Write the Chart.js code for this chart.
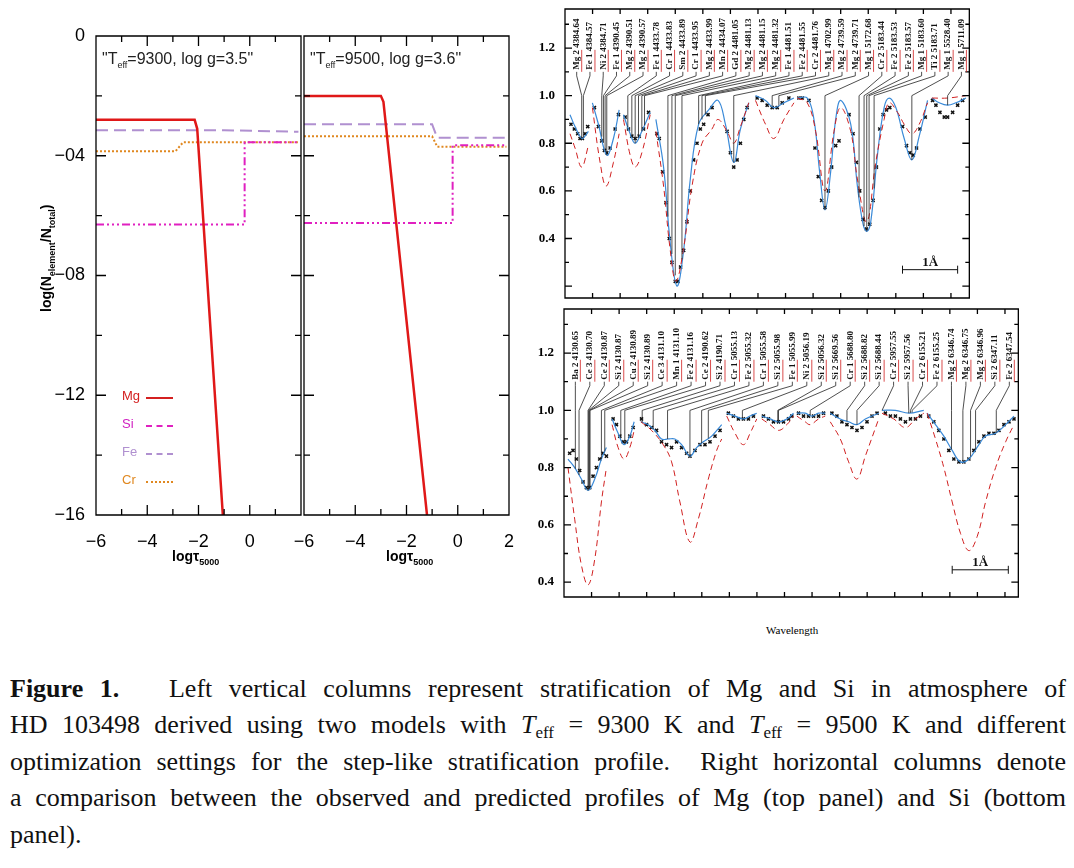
<!DOCTYPE html>
<html><head><meta charset="utf-8">
<script src="https://cdn.jsdelivr.net/npm/chart.js@4"></script>
<style>
body{margin:0;background:#fff;width:1074px;height:868px;position:relative;overflow:hidden;font-family:"Liberation Sans",sans-serif}
canvas{position:absolute}
.abs{position:absolute;white-space:nowrap}
.cap{position:absolute;left:10px;top:671px;width:1056px;font-family:"Liberation Serif",serif;font-size:26px;line-height:36.4px;color:#111}
.cap div{text-align:justify;text-align-last:justify;white-space:nowrap}
.cap div.last{text-align-last:left}
.cap sub{font-size:17px;line-height:0;vertical-align:-5px}
.lg{position:absolute;font-size:13px}
.ln{position:absolute;width:27px;height:0}
</style></head><body>
<canvas id="c1" style="left:0;top:26px"></canvas>
<canvas id="c2" style="left:284px;top:26px"></canvas>
<canvas id="c3" style="left:535px;top:0"></canvas>
<canvas id="c4" style="left:535px;top:305px"></canvas>
<div class="abs" style="left:102px;top:50px;font-size:16px;color:#222">"T<sub style="font-size:9px">eff</sub>=9300, log g=3.5"</div>
<div class="abs" style="left:310px;top:50px;font-size:16px;color:#222">"T<sub style="font-size:9px">eff</sub>=9500, log g=3.6"</div>
<div class="abs" style="transform:rotate(-90deg);transform-origin:0 0;font-weight:bold;font-size:14px;left:38px;top:312px">log(N<sub style="font-size:9px">element</sub>/N<sub style="font-size:9px">total</sub>)</div>
<div class="abs" style="left:172px;top:548px;font-weight:bold;font-size:14px">log&#964;<sub style="font-size:9px">5000</sub></div>
<div class="abs" style="left:386px;top:548px;font-weight:bold;font-size:14px">log&#964;<sub style="font-size:9px">5000</sub></div>
<div class="lg" style="left:122px;top:388px;color:#d42020">Mg</div><div class="ln" style="left:146px;top:397px;border-top:2px solid #d42020"></div>
<div class="lg" style="left:122px;top:416px;color:#d020c0">Si</div><div class="ln" style="left:146px;top:425px;border-top:2px dashed #e020c0"></div>
<div class="lg" style="left:122px;top:444px;color:#b090d0">Fe</div><div class="ln" style="left:146px;top:453px;border-top:2px dashed #b090d0"></div>
<div class="lg" style="left:122px;top:472px;color:#e08820">Cr</div><div class="ln" style="left:146px;top:481px;border-top:2px dotted #e08820"></div>
<div class="abs" style="left:766px;top:624px;font-family:'Liberation Serif',serif;font-size:11px">Wavelength</div>
<div class="cap">
<div><b>Figure 1.</b>&nbsp;&nbsp; Left vertical columns represent stratification of Mg and Si in atmosphere of</div>
<div>HD 103498 derived using two models with <i>T</i><sub>eff</sub> = 9300 K and <i>T</i><sub>eff</sub> = 9500 K and different</div>
<div>optimization settings for the step-like stratification profile.&nbsp; Right horizontal columns denote</div>
<div>a comparison between the observed and predicted profiles of Mg (top panel) and Si (bottom</div>
<div class="last">panel).</div>
</div>
<script>
// ---- left panels data (log tau, log N) ----
const mg1=[[-6,-2.8],[-2.15,-2.8],[-2.05,-3.1],[-1.05,-16]];
const si1=[[-6,-6.3],[-0.2,-6.3],[-0.2,-3.55],[1.9,-3.55]];
const fe1=[[-6,-3.15],[-1.0,-3.15],[1.9,-3.2]];
const cr1=[[-6,-3.85],[-2.9,-3.85],[-2.6,-3.55],[1.9,-3.55]];
const mg2=[[-6,-2.0],[-3.0,-2.0],[-2.9,-2.2],[-1.2,-16]];
const si2=[[-6,-6.25],[-0.2,-6.25],[-0.2,-3.65],[1.9,-3.65]];
const fe2=[[-6,-2.95],[-1.0,-2.95],[-0.8,-3.4],[1.9,-3.4]];
const cr2=[[-6,-3.35],[-1.0,-3.35],[-0.8,-3.7],[1.9,-3.7]];
// ---- top spectrum (Mg) ----
const topBlue=[[105,.92],[120,.87],[140,.82],[150,.83],[160,.85],null,[172,.97],[190,.88],[215,.75],[235,.82],[252,.94],null,[265,.92],[285,.84],[300,.80],[320,.85],[345,.93],null,[362,.90],[385,.70],[405,.38],[425,.20],[445,.35],[465,.65],[490,.88],[520,.94],[548,.98],[570,.88],[595,.72],[615,.86],[640,.97],null,[660,1.0],[690,.98],[715,.95],[745,.97],[775,.99],null,[785,.99],[815,.99],[835,.9],[852,.68],[868,.52],[885,.68],[900,.9],[915,.98],[945,.88],[965,.62],[982,.46],[993,.43],[1005,.47],[1025,.75],[1045,.95],[1060,.99],[1080,.95],[1105,.82],[1128,.73],[1150,.83],[1175,.98],null,[1188,.99],[1210,.97],[1235,.96],[1260,.97],[1290,.99]];
const topRed=[[105,.84],[120,.78],[140,.70],[160,.79],null,[172,.95],[195,.72],[213,.62],[235,.72],[252,.84],null,[265,.90],[285,.75],[300,.70],[320,.76],[345,.92],null,[362,.85],[385,.62],[405,.35],[422,.22],[445,.36],[470,.62],[500,.80],[530,.86],[548,.90],[575,.85],[595,.80],[615,.87],[640,.97],null,[660,.98],[690,.88],[715,.82],[745,.90],[775,.97],null,[785,.99],[815,.97],[840,.85],[868,.60],[895,.85],[915,.95],[945,.85],[965,.65],[993,.47],[1020,.72],[1045,.90],[1060,.97],[1085,.93],[1105,.88],[1128,.84],[1150,.88],[1175,.97],null,[1188,.99],[1235,.99],[1290,1.0]];
const topObs=[[108,.88],[118,.86],[128,.84],[135,.82],[142,.82],[150,.84],[158,.87],[178,.95],[190,.87],[200,.81],[208,.77],[215,.76],[225,.78],[240,.86],[250,.92],[270,.91],[280,.86],[290,.83],[300,.82],[312,.83],[325,.86],[340,.93],[365,.84],[372,.82],[382,.68],[392,.55],[402,.40],[410,.30],[420,.22],[428,.22],[436,.28],[445,.35],[455,.47],[465,.60],[475,.73],[485,.80],[495,.86],[505,.88],[518,.92],[530,.95],[575,.85],[585,.76],[595,.70],[605,.73],[615,.80],[625,.90],[635,.95],[665,.99],[680,.98],[695,.96],[710,.95],[725,.95],[740,.97],[760,.99],[790,.99],[800,.99],[820,.98],[838,.78],[848,.66],[858,.56],[868,.53],[878,.60],[888,.70],[900,.79],[910,.81],[940,.92],[952,.84],[962,.72],[972,.60],[982,.48],[992,.44],[1002,.46],[1012,.56],[1022,.70],[1032,.86],[1042,.92],[1052,.94],[1062,.95],[1100,.87],[1112,.79],[1122,.76],[1132,.75],[1142,.78],[1152,.86],[1168,.91],[1190,.98],[1200,.96],[1212,.93],[1225,.91],[1235,.91],[1250,.93],[1265,.96],[1280,.98]];
const topLabels=["Mg 2 4384.64","Fe 1 4384.57","Ni 2 4384.71","Fe 1 4390.45","Mg 2 4390.51","Mg 2 4390.57","Fe 1 4433.78","Cr 1 4433.83","Sm 2 4433.89","Cr 1 4433.95","Mg 2 4433.99","Mn 2 4434.07","Gd 2 4481.05","Mg 2 4481.13","Mg 2 4481.15","Mg 2 4481.32","Fe 1 4481.51","Fe 2 4481.55","Cr 2 4481.76","Mg 1 4702.99","Mg 2 4739.59","Mg 2 4739.71","Mg 1 5172.68","Cr 2 5183.44","Fe 2 5183.53","Fe 2 5183.57","Mg 1 5183.60","Ti 2 5183.71","Mg 1 5528.40","Mg 1 5711.09"];
const topTargets=[140,145,200,205,210,215,278,290,300,310,320,328,398,410,420,440,490,500,510,595,710,730,868,970,985,993,1000,1015,1128,1235];
// ---- bottom spectrum (Si) ----
const botBlue=[[100,.83],[120,.80],[140,.76],[160,.72],[180,.76],[200,.83],[215,.87],null,[232,.97],[250,.92],[268,.88],[285,.91],[298,.96],null,[318,.96],[340,.95],[360,.93],[380,.90],[400,.90],[420,.90],[440,.88],[465,.84],[485,.87],[505,.89],[530,.91],[560,.95],null,[575,.99],[600,.98],[625,.97],[645,.98],[665,.99],null,[680,.98],[705,.97],[730,.96],[755,.97],[775,.99],null,[785,.99],[810,.99],[830,.98],[850,.99],[870,.99],null,[885,.99],[915,.97],[940,.96],[965,.95],[990,.97],[1030,.99],null,[1040,1.0],[1080,1.0],[1120,.99],[1165,1.0],null,[1175,.99],[1200,.95],[1225,.91],[1250,.86],[1275,.82],[1300,.83],[1330,.88],[1350,.91],[1380,.92],[1410,.95],[1435,.98]];
const botRed=[[100,.80],[120,.62],[140,.46],[160,.39],[180,.48],[200,.68],[215,.80],null,[232,.95],[250,.87],[268,.83],[285,.87],[298,.93],null,[318,.96],[350,.93],[385,.88],[410,.82],[435,.68],[465,.54],[490,.62],[520,.76],[545,.86],[560,.90],null,[575,.98],[600,.92],[625,.88],[645,.92],[665,.97],null,[680,.97],[705,.95],[730,.93],[755,.95],[775,.98],null,[785,.98],[810,.96],[825,.95],[850,.97],[870,.98],null,[885,.96],[915,.90],[940,.82],[965,.76],[990,.84],[1030,.97],null,[1040,.99],[1075,.97],[1110,.94],[1140,.97],[1165,.99],null,[1175,.99],[1200,.90],[1225,.80],[1250,.68],[1275,.57],[1300,.51],[1325,.56],[1350,.68],[1380,.80],[1410,.89],[1435,.95]];
const botObs=[[105,.85],[115,.86],[125,.83],[135,.79],[145,.75],[155,.73],[165,.73],[175,.77],[185,.80],[195,.83],[205,.85],[215,.84],[235,.97],[245,.95],[255,.91],[265,.89],[275,.89],[285,.91],[295,.94],[320,.97],[335,.95],[350,.94],[365,.93],[380,.89],[395,.88],[410,.87],[425,.89],[440,.87],[455,.85],[465,.84],[480,.86],[495,.88],[510,.88],[525,.89],[540,.91],[555,.93],[580,.99],[595,.98],[610,.97],[625,.97],[640,.97],[655,.98],[685,.98],[700,.97],[715,.96],[730,.96],[745,.96],[760,.97],[770,.98],[790,.99],[805,.98],[820,.98],[835,.98],[850,.98],[865,.99],[890,.99],[905,.98],[920,.96],[935,.95],[950,.94],[965,.93],[980,.94],[995,.96],[1010,.98],[1025,.99],[1050,.99],[1065,.98],[1080,.98],[1095,.97],[1110,.96],[1125,.97],[1140,.97],[1155,.98],[1180,.98],[1195,.96],[1210,.93],[1225,.90],[1240,.86],[1255,.83],[1270,.82],[1285,.82],[1300,.83],[1315,.86],[1330,.89],[1345,.91],[1360,.92],[1375,.92],[1390,.93],[1405,.95],[1420,.96],[1435,.97]];
const botLabels=["Ba 2 4130.65","Ce 3 4130.70","Ce 2 4130.87","Si 2 4130.87","Cu 2 4130.89","Si 2 4130.89","Ce 3 4131.10","Mn 1 4131.10","Fe 2 4131.16","Ce 2 4190.62","Si 2 4190.71","Cr 1 5055.13","Fe 2 5055.32","Cr 1 5055.58","Si 2 5055.98","Fe 1 5055.99","Ni 2 5056.19","Si 2 5056.32","Si 2 5669.56","Cr 1 5688.80","Si 2 5688.82","Si 2 5688.44","Cr 2 5957.55","Si 2 5957.56","Cr 2 6155.21","Fe 2 6155.25","Mg 2 6346.74","Mg 2 6346.75","Mg 2 6346.96","Si 2 6347.11","Fe 2 6347.54"];
const botTargets=[122,133,160,162,164,166,200,210,258,270,322,355,398,465,500,520,622,728,730,825,935,965,1040,1120,1125,1130,1248,1282,1305,1320,1382];

const P=a=>a.map(p=>p?{x:p[0],y:p[1]}:{x:NaN,y:null});
const noPad=s=>{s.paddingLeft=0;s.paddingRight=0;s.paddingTop=0;s.paddingBottom=0;};
function frame(opts){return{id:'frame',afterDraw(ch){const c=ch.ctx,a=ch.chartArea,xs=ch.scales.x,ys=ch.scales.y;c.save();c.setLineDash([]);c.strokeStyle='#000';c.lineWidth=1.3;
c.beginPath();c.moveTo(a.left,a.top);c.lineTo(a.right,a.top);c.lineTo(a.right,a.bottom);c.lineTo(a.left,a.bottom);c.closePath();
for(let v=xs.min;v<=xs.max+1e-9;v+=opts.xs){const px=xs.getPixelForValue(v);const L=opts.xl(v);c.moveTo(px,a.bottom);c.lineTo(px,a.bottom-L);c.moveTo(px,a.top);c.lineTo(px,a.top+L);}
for(let v=opts.y0;v<=ys.max+1e-9;v+=opts.ys){const py=ys.getPixelForValue(v);const L=opts.yl(v);c.moveTo(a.left,py);c.lineTo(a.left+L,py);c.moveTo(a.right,py);c.lineTo(a.right-L,py);}
c.stroke();if(opts.extra)opts.extra(ch,c);c.restore();}}}
function leftChart(id,w,data,showY,yw){
 const cv=document.getElementById(id);cv.width=w;cv.height=560;cv.style.width=w+'px';cv.style.height='560px';
 const ds=[{d:data[0],c:'#e01818',w:2.5,dash:[]},{d:data[1],c:'#e020c0',w:2,dash:[8,3,2,3,2,3,2,3]},{d:data[2],c:'#b090d0',w:2,dash:[12,6]},{d:data[3],c:'#e08820',w:2,dash:[2,2]}];
 new Chart(cv,{type:'line',data:{datasets:ds.map(s=>({data:P(s.d),borderColor:s.c,borderWidth:s.w,borderDash:s.dash,pointRadius:0,tension:0}))},
 options:{responsive:false,animation:false,devicePixelRatio:1,layout:{autoPadding:false,padding:{top:10,right:showY?4:5,left:0}},plugins:{legend:{display:false},tooltip:{enabled:false}},
 scales:{x:{type:'linear',min:-6,max:2,grid:{display:false},border:{display:false},afterFit:s=>{s.height=71;noPad(s);},ticks:{stepSize:2,color:'#000',font:{size:18,family:'Liberation Sans'},padding:8,maxRotation:0,callback:v=>(showY&&v==2)?'':(v<0?'−'+(-v):String(v))}},
 y:{min:-16,max:0,grid:{display:false},border:{display:false},afterFit:s=>{s.width=yw;noPad(s);},ticks:{display:showY,stepSize:4,color:'#000',font:{size:18,family:'Liberation Sans'},callback:v=>v==0?'0':'−'+String(-v).padStart(2,'0')}}}},
 plugins:[frame({xs:1,xl:v=>v%2==0?10:6,y0:-16,ys:2,yl:v=>v%4==0?10:6})]});}
leftChart('c1',305,[mg1,si1,fe1,cr1],true,96);
leftChart('c2',230,[mg2,si2,fe2,cr2],false,20);

function spec(id,w,h,xmin,xmax,ymin,ymax,yw,pt,xh,blue,red,obs,labels,targets,l0,lsp,bar){
 const cv=document.getElementById(id);cv.width=w;cv.height=h;cv.style.width=w+'px';cv.style.height=h+'px';
 new Chart(cv,{type:'line',data:{datasets:[
  {data:P(red),borderColor:'#d02020',borderWidth:1,borderDash:[6,4],pointRadius:0,tension:0.4,spanGaps:false},
  {data:P(blue),borderColor:'#3a8ad8',borderWidth:1.2,pointRadius:0,tension:0.4,spanGaps:false},
  {data:P(obs),showLine:false,pointStyle:'crossRot',pointRadius:2.2,borderColor:'#111',borderWidth:1.5}]},
 options:{responsive:false,animation:false,devicePixelRatio:1,layout:{autoPadding:false,padding:{top:pt,right:w-yw-(xmax-xmin)/3-1,left:0}},plugins:{legend:{display:false},tooltip:{enabled:false}},
 scales:{x:{type:'linear',min:xmin,max:xmax,grid:{display:false},border:{display:false},afterFit:s=>{s.height=xh;noPad(s);},ticks:{display:false}},
 y:{min:ymin,max:ymax,grid:{display:false},border:{display:false},afterFit:s=>{s.width=yw;noPad(s);},ticks:{stepSize:0.2,padding:2,color:'#000',font:{size:13,family:'Liberation Serif',weight:'bold'},callback:v=>(Math.abs(v*5-Math.round(v*5))<1e-6&&v>ymin+0.01)?v.toFixed(1):''}}}},
 plugins:[frame({xs:82.5,xl:()=>5,y0:Math.ceil(ymin*10)/10,ys:0.1,yl:v=>Math.abs(v*5-Math.round(v*5))<1e-6?7:4,extra:(ch,c)=>{
   const xs=ch.scales.x,ys=ch.scales.y;
   const bl=blue.filter(p=>p);
   const yAt=x=>{for(let i=1;i<bl.length;i++){if(bl[i][0]>=x&&bl[i-1][0]<=x){const t=(x-bl[i-1][0])/(bl[i][0]-bl[i-1][0]);return bl[i-1][1]+t*(bl[i][1]-bl[i-1][1]);}}return 0.95;};
   c.font='bold 9px "Liberation Serif"';c.textAlign='left';c.textBaseline='middle';
   labels.forEach((t,i)=>{const lx=xs.getPixelForValue(l0+i*lsp);const ly=ys.getPixelForValue(1.10);const tx=xs.getPixelForValue(targets[i]);const y1=ys.getPixelForValue(1.0);
    c.strokeStyle='#222';c.lineWidth=0.8;c.beginPath();c.moveTo(lx,ly);c.lineTo(lx,ly+4);c.lineTo(tx,y1);c.lineTo(tx,ys.getPixelForValue(yAt(targets[i])));c.stroke();
    c.strokeStyle='#d02020';c.beginPath();c.moveTo(lx+5,ly);c.lineTo(lx+5,ly-22);c.stroke();
    c.save();c.translate(lx,ly-2);c.rotate(-Math.PI/2);c.fillStyle='#111';c.fillText(t,0,0);c.restore();});
   const by=ys.getPixelForValue(bar[2]),b1=xs.getPixelForValue(bar[0]),b2=xs.getPixelForValue(bar[1]);
   c.strokeStyle='#111';c.lineWidth=1;c.beginPath();c.moveTo(b1,by);c.lineTo(b2,by);c.moveTo(b1,by-4);c.lineTo(b1,by+4);c.moveTo(b2,by-4);c.lineTo(b2,by+4);c.stroke();
   c.font='bold 13px "Liberation Serif"';c.textAlign='center';c.textBaseline='bottom';c.fillStyle='#111';c.fillText('1Å',(b1+b2)/2,by-1);
 }})]});}
spec('c3',440,305,90,1300,0.15,1.364,30,9,7,topBlue,topRed,topObs,topLabels,topTargets,125,39.7,[1100,1265,0.269]);
spec('c4',490,300,88,1448,0.348,1.354,29,4,8,botBlue,botRed,botObs,botLabels,botTargets,122,43.3,[1250,1418,0.443]);
</script></body></html>
